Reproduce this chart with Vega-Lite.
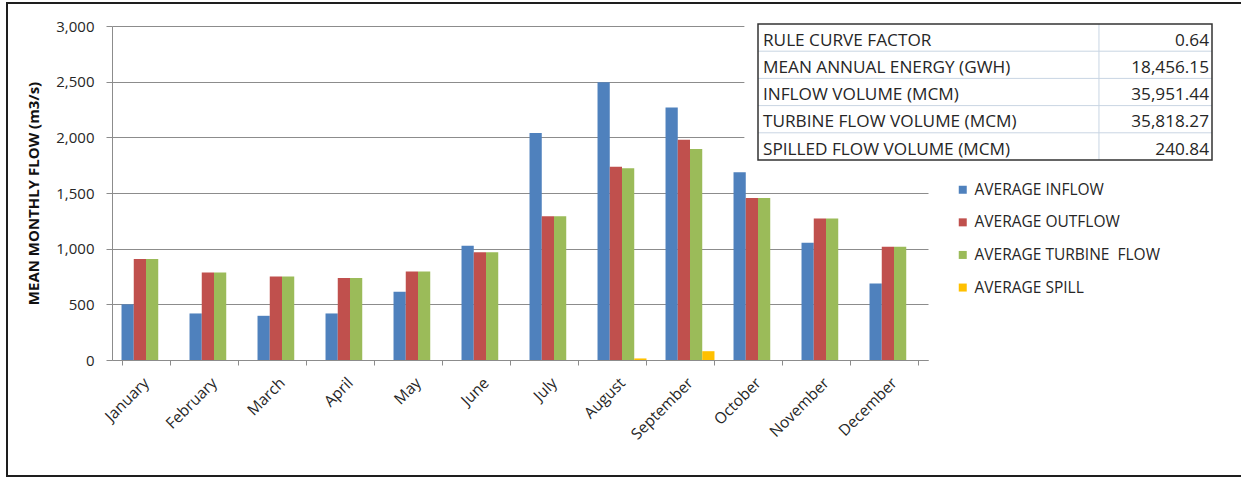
{
  "$schema": "https://vega.github.io/schema/vega-lite/v6.json",
  "width": 816,
  "height": 334,
  "autosize": "none",
  "padding": {"left": 112, "top": 26, "right": 313, "bottom": 118},
  "background": "white",
  "config": {
    "view": {"stroke": null},
    "font": "Open Sans",
    "axis": {"labelFont": "Open Sans", "titleFont": "Open Sans"},
    "legend": {"labelFont": "Open Sans"}
  },
  "datasets": {
    "flows": [
      {"month": "January", "series": "AVERAGE INFLOW", "flow": 500},
      {"month": "January", "series": "AVERAGE OUTFLOW", "flow": 907},
      {"month": "January", "series": "AVERAGE TURBINE\u00a0 FLOW", "flow": 907},
      {"month": "January", "series": "AVERAGE SPILL", "flow": 0},
      {"month": "February", "series": "AVERAGE INFLOW", "flow": 418},
      {"month": "February", "series": "AVERAGE OUTFLOW", "flow": 785},
      {"month": "February", "series": "AVERAGE TURBINE\u00a0 FLOW", "flow": 785},
      {"month": "February", "series": "AVERAGE SPILL", "flow": 0},
      {"month": "March", "series": "AVERAGE INFLOW", "flow": 397},
      {"month": "March", "series": "AVERAGE OUTFLOW", "flow": 749},
      {"month": "March", "series": "AVERAGE TURBINE\u00a0 FLOW", "flow": 749},
      {"month": "March", "series": "AVERAGE SPILL", "flow": 0},
      {"month": "April", "series": "AVERAGE INFLOW", "flow": 418},
      {"month": "April", "series": "AVERAGE OUTFLOW", "flow": 737},
      {"month": "April", "series": "AVERAGE TURBINE\u00a0 FLOW", "flow": 737},
      {"month": "April", "series": "AVERAGE SPILL", "flow": 0},
      {"month": "May", "series": "AVERAGE INFLOW", "flow": 612},
      {"month": "May", "series": "AVERAGE OUTFLOW", "flow": 794},
      {"month": "May", "series": "AVERAGE TURBINE\u00a0 FLOW", "flow": 794},
      {"month": "May", "series": "AVERAGE SPILL", "flow": 0},
      {"month": "June", "series": "AVERAGE INFLOW", "flow": 1027},
      {"month": "June", "series": "AVERAGE OUTFLOW", "flow": 967},
      {"month": "June", "series": "AVERAGE TURBINE\u00a0 FLOW", "flow": 967},
      {"month": "June", "series": "AVERAGE SPILL", "flow": 0},
      {"month": "July", "series": "AVERAGE INFLOW", "flow": 2039},
      {"month": "July", "series": "AVERAGE OUTFLOW", "flow": 1292},
      {"month": "July", "series": "AVERAGE TURBINE\u00a0 FLOW", "flow": 1292},
      {"month": "July", "series": "AVERAGE SPILL", "flow": 0},
      {"month": "August", "series": "AVERAGE INFLOW", "flow": 2495},
      {"month": "August", "series": "AVERAGE OUTFLOW", "flow": 1735},
      {"month": "August", "series": "AVERAGE TURBINE\u00a0 FLOW", "flow": 1722},
      {"month": "August", "series": "AVERAGE SPILL", "flow": 14},
      {"month": "September", "series": "AVERAGE INFLOW", "flow": 2268},
      {"month": "September", "series": "AVERAGE OUTFLOW", "flow": 1979},
      {"month": "September", "series": "AVERAGE TURBINE\u00a0 FLOW", "flow": 1896},
      {"month": "September", "series": "AVERAGE SPILL", "flow": 79},
      {"month": "October", "series": "AVERAGE INFLOW", "flow": 1686},
      {"month": "October", "series": "AVERAGE OUTFLOW", "flow": 1455},
      {"month": "October", "series": "AVERAGE TURBINE\u00a0 FLOW", "flow": 1455},
      {"month": "October", "series": "AVERAGE SPILL", "flow": 0},
      {"month": "November", "series": "AVERAGE INFLOW", "flow": 1054},
      {"month": "November", "series": "AVERAGE OUTFLOW", "flow": 1272},
      {"month": "November", "series": "AVERAGE TURBINE\u00a0 FLOW", "flow": 1272},
      {"month": "November", "series": "AVERAGE SPILL", "flow": 0},
      {"month": "December", "series": "AVERAGE INFLOW", "flow": 687},
      {"month": "December", "series": "AVERAGE OUTFLOW", "flow": 1018},
      {"month": "December", "series": "AVERAGE TURBINE\u00a0 FLOW", "flow": 1018},
      {"month": "December", "series": "AVERAGE SPILL", "flow": 0}
    ],
    "summary": [
      {"row": 1, "label": "RULE CURVE FACTOR", "value": "0.64"},
      {"row": 2, "label": "MEAN ANNUAL ENERGY (GWH)", "value": "18,456.15"},
      {"row": 3, "label": "INFLOW VOLUME (MCM)", "value": "35,951.44"},
      {"row": 4, "label": "TURBINE FLOW VOLUME (MCM)", "value": "35,818.27"},
      {"row": 5, "label": "SPILLED FLOW VOLUME (MCM)", "value": "240.84"}
    ]
  },
  "layer": [
    {
      "description": "outer frame around the whole figure",
      "data": {"values": [{}]},
      "mark": {"type": "rect", "filled": false, "stroke": "#1e1e1e", "strokeWidth": 2},
      "encoding": {
        "x": {"datum": 0, "type": "quantitative", "scale": {"domain": [0, 1], "range": [-105, 1131], "nice": false, "zero": false}, "axis": null},
        "x2": {"datum": 1},
        "y": {"datum": 0, "type": "quantitative", "scale": {"domain": [0, 1], "range": [-23, 450], "nice": false, "zero": false}, "axis": null},
        "y2": {"datum": 1}
      }
    },
    {
      "description": "grouped monthly bars",
      "data": {"name": "flows"},
      "mark": {"type": "bar"},
      "encoding": {
        "x": {
          "field": "month",
          "type": "nominal",
          "sort": ["January", "February", "March", "April", "May", "June", "July", "August", "September", "October", "November", "December"],
          "scale": {"paddingInner": 0.28, "paddingOuter": 0.14},
          "axis": {
            "title": null,
            "labelAngle": -45,
            "labelAlign": "right",
            "labelBaseline": "middle",
            "labelFontSize": 15.5,
            "labelColor": "#262626",
            "labelPadding": 15,
            "tickBand": "extent",
            "tickSize": 5,
            "tickColor": "#8c8c8c",
            "domainColor": "#8c8c8c",
            "grid": false
          }
        },
        "xOffset": {
          "field": "series",
          "type": "nominal",
          "sort": ["AVERAGE INFLOW", "AVERAGE OUTFLOW", "AVERAGE TURBINE\u00a0 FLOW", "AVERAGE SPILL"],
          "scale": {"paddingInner": 0, "paddingOuter": 0}
        },
        "y": {
          "field": "flow",
          "type": "quantitative",
          "scale": {"domain": [0, 3000], "nice": false},
          "axis": {
            "title": "MEAN MONTHLY FLOW (m3/s)",
            "titleFontWeight": "bold",
            "titleFontSize": 15,
            "titleColor": "#111111",
            "titlePadding": 14,
            "values": [0, 500, 1000, 1500, 2000, 2500, 3000],
            "format": ",.0f",
            "labelFontSize": 15,
            "labelColor": "#262626",
            "labelPadding": 12,
            "tickSize": 6,
            "tickColor": "#8c8c8c",
            "domainColor": "#8c8c8c",
            "grid": true,
            "gridColor": "#8c8c8c",
            "gridWidth": 1
          }
        },
        "color": {
          "field": "series",
          "type": "nominal",
          "scale": {
            "domain": ["AVERAGE INFLOW", "AVERAGE OUTFLOW", "AVERAGE TURBINE\u00a0 FLOW", "AVERAGE SPILL"],
            "range": ["#4f81bd", "#c0504d", "#9bbb59", "#ffc000"]
          },
          "legend": {
            "title": null,
            "orient": "none",
            "legendX": 843,
            "legendY": 156,
            "symbolType": "square",
            "symbolSize": 64,
            "symbolStrokeWidth": 0,
            "labelFontSize": 15.5,
            "labelColor": "#262626",
            "labelOffset": 4,
            "labelLimit": 300,
            "rowPadding": 15.6
          }
        }
      }
    },
    {
      "description": "summary table",
      "layer": [
        {
          "data": {"values": [{}]},
          "mark": {"type": "rect", "fill": "white"},
          "encoding": {
            "x": {"datum": -3, "type": "quantitative", "scale": {"domain": [0, 100], "range": [646, 1100], "nice": false, "zero": false}, "axis": null},
            "x2": {"datum": 100},
            "y": {"datum": -0.05, "type": "quantitative", "scale": {"domain": [0, 5], "range": [-2, 134], "nice": false, "zero": false}, "axis": null},
            "y2": {"datum": 5}
          }
        },
        {
          "data": {"name": "summary"},
          "transform": [{"filter": "datum.row < 5"}],
          "mark": {"type": "rule", "color": "#c9d5e3", "strokeWidth": 1},
          "encoding": {
            "x": {"datum": 0, "type": "quantitative"},
            "x2": {"datum": 100},
            "y": {"field": "row", "type": "quantitative"}
          }
        },
        {
          "data": {"values": [{}]},
          "mark": {"type": "rule", "color": "#c9d5e3", "strokeWidth": 1},
          "encoding": {
            "x": {"datum": 75.1, "type": "quantitative"},
            "y": {"datum": 0, "type": "quantitative"},
            "y2": {"datum": 5}
          }
        },
        {
          "data": {"values": [{}]},
          "mark": {"type": "rect", "filled": false, "stroke": "#333333", "strokeWidth": 1.5},
          "encoding": {
            "x": {"datum": 0, "type": "quantitative"},
            "x2": {"datum": 100},
            "y": {"datum": 0, "type": "quantitative"},
            "y2": {"datum": 5}
          }
        },
        {
          "data": {"name": "summary"},
          "mark": {"type": "text", "align": "left", "baseline": "alphabetic", "dx": 5, "dy": -5.5, "fontSize": 17.2, "color": "#262626"},
          "encoding": {
            "x": {"datum": 0, "type": "quantitative"},
            "y": {"field": "row", "type": "quantitative"},
            "text": {"field": "label"}
          }
        },
        {
          "data": {"name": "summary"},
          "mark": {"type": "text", "align": "right", "baseline": "alphabetic", "dx": -3, "dy": -5.5, "fontSize": 17.2, "color": "#262626"},
          "encoding": {
            "x": {"datum": 100, "type": "quantitative"},
            "y": {"field": "row", "type": "quantitative"},
            "text": {"field": "value"}
          }
        }
      ]
    }
  ],
  "resolve": {"scale": {"x": "independent", "y": "independent", "color": "independent"}}
}
